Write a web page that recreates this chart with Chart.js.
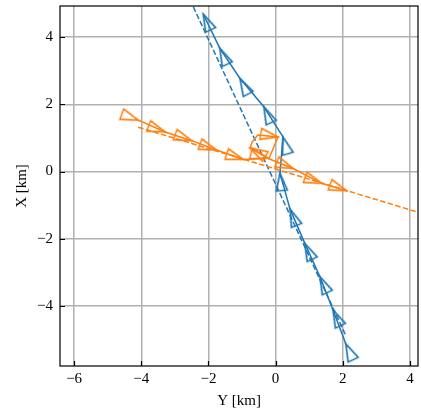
<!DOCTYPE html>
<html>
<head>
<meta charset="utf-8">
<script src="https://cdn.jsdelivr.net/npm/chart.js@4.4.1/dist/chart.umd.min.js"></script>
<style>
  html, body { margin: 0; padding: 0; background: #fff; }
  #wrap { width: 421px; height: 412px; }
</style>
</head>
<body>
<div id="wrap"><canvas id="chart" width="421" height="412"></canvas></div>
<script>
// horizontal axis is "Y [km]", vertical axis is "X [km]"
// blue track, in order of travel (values are the marker tips)
const blueY = [2.09, 1.71, 1.32, 0.87, 0.43, 0.13, 0.22, -0.35, -1.06, -1.66, -2.155];
const blueX = [-5.13, -4.12, -3.13, -2.14, -1.12, -0.05, 1.03, 1.93, 2.77, 3.67, 4.69];
const blueHeading = [-25, -25, -25, -25, -22, -6, -16, -25, -28, -25, -25];

// orange track, with a small loop near the origin
const orangeY = [-4.09, -3.29, -2.50, -1.76, -0.96, -0.23, -0.76, -0.70, -0.53, 0.07, -0.20, 0.52, 1.37, 2.11];
const orangeX = [1.53, 1.18, 0.92, 0.64, 0.36, 0.40, 0.70, 0.88, 1.09, 1.03, 0.38, 0.09, -0.35, -0.57];
const orangeMarker = [1, 1, 1, 1, 1, 1, 1, 0, 0, 1, 0, 1, 1, 1];
const orangeHeading = [110, 110, 110, 110, 108, 105, -61, 0, 0, 100, 0, 112, 110, 110];

// straight-line fits (dashed)
const blueFitY = [-2.55, 2.09];
const blueFitX = [5.12, -4.88];
const orangeFitY = [-4.09, 4.3];
const orangeFitX = [1.32, -1.23];

const xTicks = [-6, -4, -2, 0, 2, 4];
const yTicks = [-4, -2, 0, 2, 4];

const BLUE = '#1f77b4';
const ORANGE = '#ff7f0e';
const FONT = { family: '"Liberation Serif", "DejaVu Serif", serif', size: 15 };

function pts(h, v) {
    return h.map((val, i) => ({ x: val, y: v[i] }));
}

// slender open triangle, tip at the centre of the image, pointing up
function triangleMarker(color) {
    const c = document.createElement('canvas');
    c.width = 44;
    c.height = 44;
    const g = c.getContext('2d');
    g.strokeStyle = color;
    g.lineWidth = 1.7;
    g.beginPath();
    g.moveTo(22, 22);
    g.lineTo(27.5, 39.5);
    g.lineTo(16.5, 39.5);
    g.closePath();
    g.stroke();
    return c;
}

const minus = v => (v < 0 ? '\u2212' + Math.abs(v) : String(v));

// push the right edge of the plot out to 3px from the canvas edge
const rightEdge = {
    id: 'rightEdge',
    afterLayout(chart) {
        const r = chart.width - 3;
        const x = chart.scales.x;
        chart.chartArea.right = r;
        chart.chartArea.width = r - chart.chartArea.left;
        x.right = r;
        x.width = r - x.left;
        x.configure();
        x._labelItems = null;
        x._gridLineItems = null;
        chart.scales.y._gridLineItems = null;
    }
};

const framePlugin = {
    id: 'frame',
    afterDraw(chart) {
        const { ctx, chartArea: a, scales } = chart;
        ctx.save();
        ctx.strokeStyle = '#000';
        ctx.lineWidth = 1.2;
        ctx.strokeRect(a.left, a.top, a.right - a.left, a.bottom - a.top);
        ctx.beginPath();
        xTicks.forEach(v => {
            const px = Math.round(scales.x.getPixelForValue(v)) + 0.5;
            ctx.moveTo(px, a.bottom);
            ctx.lineTo(px, a.bottom - 5);
        });
        yTicks.forEach(v => {
            const py = Math.round(scales.y.getPixelForValue(v)) + 0.5;
            ctx.moveTo(a.left, py);
            ctx.lineTo(a.left + 5, py);
        });
        ctx.stroke();
        ctx.restore();
    }
};

new Chart(document.getElementById('chart'), {
    type: 'scatter',
    data: {
        datasets: [
            {
                data: pts(orangeY, orangeX),
                showLine: true,
                borderColor: ORANGE,
                borderWidth: 1.5,
                pointStyle: triangleMarker(ORANGE),
                pointRotation: orangeHeading,
                pointRadius: orangeMarker.map(m => (m ? 4 : 0)),
                order: 1
            },
            {
                data: pts(orangeFitY, orangeFitX),
                showLine: true,
                borderColor: ORANGE,
                borderWidth: 1.5,
                borderDash: [5.5, 2.4],
                pointRadius: 0,
                order: 2
            },
            {
                data: pts(blueY, blueX),
                showLine: true,
                borderColor: BLUE,
                borderWidth: 1.5,
                pointStyle: triangleMarker(BLUE),
                pointRotation: blueHeading,
                pointRadius: 4,
                order: 3
            },
            {
                data: pts(blueFitY, blueFitX),
                showLine: true,
                borderColor: BLUE,
                borderWidth: 1.5,
                borderDash: [5.5, 2.4],
                pointRadius: 0,
                order: 4
            }
        ]
    },
    options: {
        responsive: false,
        animation: false,
        devicePixelRatio: 1,
        layout: { padding: { top: 6, right: 3, left: 0, bottom: 0 } },
        plugins: {
            legend: { display: false },
            tooltip: { enabled: false }
        },
        scales: {
            x: {
                type: 'linear',
                min: -6.42,
                max: 4.24,
                afterBuildTicks: s => { s.ticks = xTicks.map(v => ({ value: v })); },
                afterFit: s => { s.height = 46; s.paddingLeft = 0; s.paddingRight = 0; },
                grid: { color: '#b0b0b0', lineWidth: 1.5, drawTicks: false },
                border: { display: false },
                ticks: { color: '#000', font: FONT, padding: 4, maxRotation: 0, callback: minus },
                title: { display: true, text: 'Y [km]', color: '#000', font: FONT, padding: { top: 0, bottom: 2 } }
            },
            y: {
                type: 'linear',
                min: -5.79,
                max: 4.93,
                afterBuildTicks: s => { s.ticks = yTicks.map(v => ({ value: v })); },
                afterFit: s => { s.width = 60; s.paddingTop = 0; s.paddingBottom = 0; },
                grid: { color: '#b0b0b0', lineWidth: 1.5, drawTicks: false },
                border: { display: false },
                ticks: { color: '#000', font: FONT, padding: 7, callback: minus },
                title: { display: true, text: 'X [km]', color: '#000', font: FONT, padding: { top: 13, bottom: 0 } }
            }
        }
    },
    plugins: [rightEdge, framePlugin]
});
</script>
</body>
</html>
